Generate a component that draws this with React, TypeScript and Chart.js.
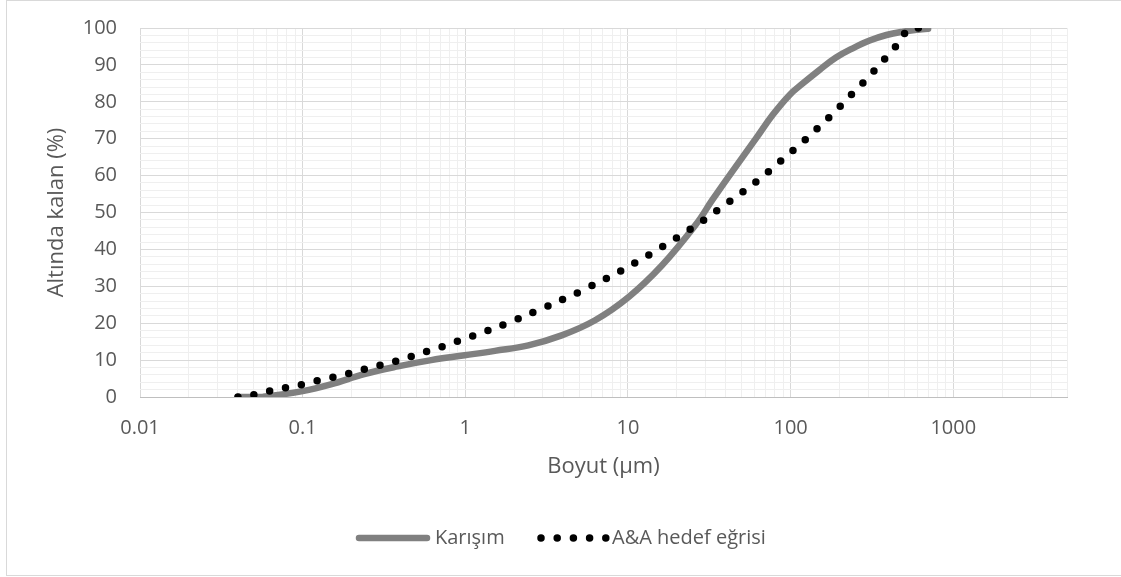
import React, { useEffect, useRef } from 'react';
import { Chart, registerables } from 'chart.js';

Chart.register(...registerables);

// Particle size distribution of the blend (µm → % passing)
const karisimSize = [0.04, 0.057, 0.1, 0.149, 0.239, 0.385, 0.617, 0.99, 1.52, 2.44, 3.91, 6.28, 10.1, 16.2, 26.0, 33.0, 42, 61.1, 77.4, 98.2, 119, 150, 190, 241, 306, 388, 491, 622, 700];
const karisimPct = [0, 0.1, 1.6, 3.4, 6.2, 8.3, 10, 11.3, 12.5, 14, 16.7, 20.8, 27.1, 35.7, 46.6, 53.4, 60, 70, 76.4, 81.8, 85, 88.6, 92, 94.5, 96.6, 98.1, 99, 99.6, 99.8];

// Andreasen & Andersen target curve
const hedefSize = [0.04, 0.0513, 0.0641, 0.0805, 0.1, 0.126, 0.158, 0.198, 0.247, 0.31, 0.388, 0.482, 0.602, 0.752, 0.935, 1.17, 1.45, 1.79, 2.22, 2.74, 3.4, 4.2, 5.2, 6.37, 7.85, 9.58, 11.7, 14.3, 17.5, 21.2, 25.8, 31.2, 37.5, 45.3, 54.5, 65.3, 78.2, 93.1, 111, 132, 155, 183, 216, 253, 297, 348, 405, 469, 540, 700];
const hedefPct = [0, 0.7, 1.7, 2.6, 3.4, 4.5, 5.5, 6.5, 7.7, 8.8, 9.9, 11.2, 12.6, 13.9, 15.4, 16.9, 18.4, 19.9, 21.6, 23.3, 25.1, 26.9, 28.8, 30.8, 32.7, 34.8, 37, 39.2, 41.6, 43.9, 46.3, 48.8, 51.4, 54, 56.6, 59.3, 62.2, 65.1, 68, 70.9, 73.9, 76.9, 80.2, 83.3, 86.4, 89.8, 93.1, 96.3, 100, 100];

const seriesNames = ['Karışım', 'A&A hedef eğrisi'];
const xTickLabels = ['0.01', '0.1', '1', '10', '100', '1000'];
const yTickLabels = ['0', '10', '20', '30', '40', '50', '60', '70', '80', '90', '100'];

const X_MIN = 0.01;
const X_MAX = 5000;
const FONT = "'Open Sans', sans-serif";
const TEXT = '#595959';
const GRID_MAJOR = '#d9d9d9';
const GRID_MINOR = '#efefef';

const majorX = xTickLabels.map(Number);
const xTicks: number[] = [];
majorX.forEach((m) => {
  for (let k = 1; k <= 9; k++) {
    const v = Number((m * k).toPrecision(3));
    if (v <= X_MAX) xTicks.push(v);
  }
});
const majorY = yTickLabels.map(Number);

// chart-area frame
const framePlugin = {
  id: 'frame',
  beforeDraw(chart: any) {
    const ctx = chart.ctx;
    ctx.save();
    ctx.fillStyle = '#ffffff';
    ctx.fillRect(0, 0, chart.width, chart.height);
    ctx.strokeStyle = '#d9d9d9';
    ctx.lineWidth = 1;
    ctx.strokeRect(6.5, 0.5, chart.width + 20, 575);
    ctx.restore();
  },
};

// legend below the axis, drawn with each dataset's own line style
const legendPlugin = {
  id: 'lineLegend',
  afterDraw(chart: any) {
    const ctx = chart.ctx;
    const y = 538;
    const items = [
      { i: 0, x0: 359, x1: 427, tx: 435 },
      { i: 1, x0: 541, x1: 607, tx: 612 },
    ];
    ctx.save();
    items.forEach((it) => {
      const ds = chart.data.datasets[it.i];
      ctx.beginPath();
      ctx.strokeStyle = ds.borderColor;
      ctx.lineWidth = ds.borderWidth;
      ctx.lineCap = ds.borderCapStyle || 'butt';
      ctx.setLineDash(ds.borderDash || []);
      ctx.moveTo(it.x0, y);
      ctx.lineTo(it.x1, y);
      ctx.stroke();
      ctx.setLineDash([]);
      ctx.fillStyle = TEXT;
      ctx.font = `20px ${FONT}`;
      ctx.textAlign = 'left';
      ctx.textBaseline = 'middle';
      ctx.fillText(ds.label, it.tx, y);
    });
    ctx.restore();
  },
};

export default function App() {
  const canvasRef = useRef<HTMLCanvasElement>(null);

  useEffect(() => {
    if (!canvasRef.current) return;
    const chart = new Chart(canvasRef.current, {
      type: 'line',
      data: {
        datasets: [
          {
            label: seriesNames[0],
            data: karisimSize.map((x, i) => ({ x, y: karisimPct[i] })),
            borderColor: '#808080',
            borderWidth: 6.5,
            borderCapStyle: 'round',
            borderJoinStyle: 'round',
            tension: 0.4,
            pointRadius: 0,
            fill: false,
            order: 1,
          },
          {
            label: seriesNames[1],
            data: hedefSize.map((x, i) => ({ x, y: hedefPct[i] })),
            borderColor: '#000000',
            borderWidth: 7.5,
            borderCapStyle: 'round',
            borderDash: [0, 16.2],
            tension: 0.4,
            pointRadius: 0,
            fill: false,
            order: 0,
          },
        ],
      },
      options: {
        animation: false,
        responsive: false,
        devicePixelRatio: 1,
        layout: { padding: { left: 0, top: 28, right: 54, bottom: 90 } },
        plugins: {
          legend: { display: false },
          tooltip: { enabled: false },
        },
        scales: {
          x: {
            type: 'logarithmic',
            min: X_MIN,
            max: X_MAX,
            afterBuildTicks: (scale: any) => {
              scale.ticks = xTicks.map((value) => ({ value }));
            },
            afterFit: (scale: any) => {
              scale.height = 90;
            },
            ticks: {
              autoSkip: false,
              maxRotation: 0,
              minRotation: 0,
              padding: 19,
              color: TEXT,
              font: { family: FONT, size: 20 },
              callback: (value: any) => {
                const idx = majorX.indexOf(Number(value));
                return idx >= 0 ? xTickLabels[idx] : '';
              },
            },
            grid: {
              drawTicks: false,
              lineWidth: 1,
              color: (c: any) => (c.tick && majorX.includes(c.tick.value) ? GRID_MAJOR : GRID_MINOR),
            },
            border: { display: true, color: '#bfbfbf', width: 1 },
            title: {
              display: true,
              text: 'Boyut (µm)',
              color: TEXT,
              font: { family: FONT, size: 22 },
              padding: { top: 0, bottom: 7 },
            },
          },
          y: {
            min: 0,
            max: 100,
            afterFit: (scale: any) => {
              scale.width = 140;
              scale.paddingTop = 0;
              scale.paddingBottom = 0;
            },
            ticks: {
              stepSize: 2,
              autoSkip: false,
              padding: 23,
              color: TEXT,
              font: { family: FONT, size: 20 },
              callback: (value: any) => {
                const idx = majorY.indexOf(Number(value));
                return idx >= 0 ? yTickLabels[idx] : '';
              },
            },
            grid: {
              drawTicks: false,
              lineWidth: 1,
              color: (c: any) => (c.tick && majorY.includes(c.tick.value) ? GRID_MAJOR : GRID_MINOR),
            },
            border: { display: false },
            title: {
              display: true,
              text: 'Altında kalan (%)',
              color: TEXT,
              font: { family: FONT, size: 22 },
              padding: { top: 44, bottom: 0 },
            },
          },
        },
      },
      plugins: [framePlugin, legendPlugin],
    } as any);
    return () => chart.destroy();
  }, []);

  return (
    <div style={{ position: 'fixed', left: 0, top: 0, width: 1121, height: 577, background: '#fff' }}>
      <canvas ref={canvasRef} width={1121} height={577} style={{ width: 1121, height: 577, display: 'block' }} />
    </div>
  );
}
